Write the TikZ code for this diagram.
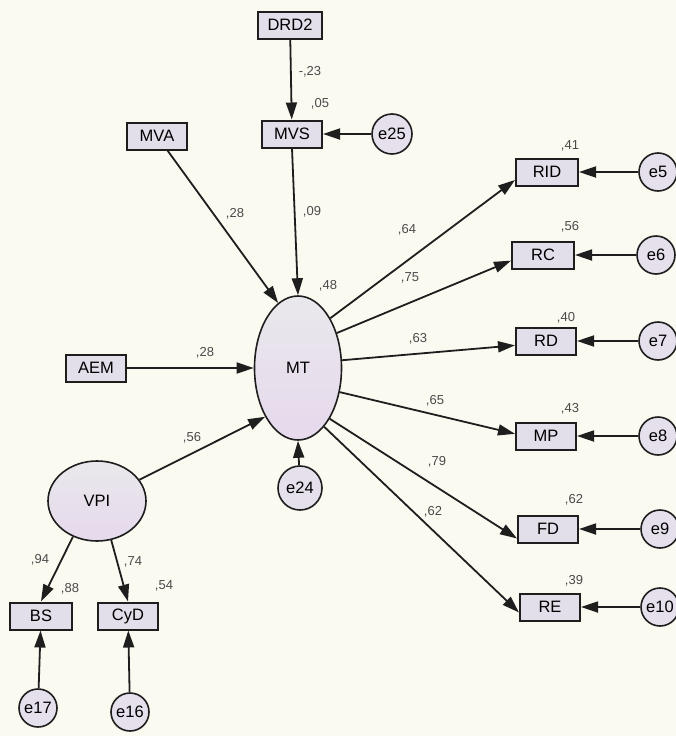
\documentclass[tikz,border=0pt]{standalone}
\usepackage{fontspec}
\setmainfont{Liberation Sans}
\usetikzlibrary{arrows.meta,shapes.geometric}
\definecolor{paper}{HTML}{FBFAF1}
\definecolor{boxfill}{HTML}{E2DEEA}
\definecolor{latfill}{HTML}{E6DFEC}
\definecolor{lattop}{HTML}{E9E8EC}
\definecolor{latbottom}{HTML}{E6D9EC}
\definecolor{ink}{HTML}{1E1E1E}
\definecolor{numgray}{HTML}{4A4A4A}
\tikzset{
  obs/.style={draw=ink, line width=2pt, fill=boxfill, minimum width=60pt,
    minimum height=27pt, inner sep=0pt, font=\fontsize{16.5}{16.5}\selectfont},
  err/.style={circle, draw=ink, line width=1.6pt, fill=latfill, minimum size=40pt,
    inner sep=0pt, font=\fontsize{16.5}{16.5}\selectfont},
  lat/.style={ellipse, draw=ink, line width=1.6pt, top color=lattop,
    bottom color=latbottom, inner sep=0pt, font=\fontsize{16.5}{16.5}\selectfont},
  num/.style={text=numgray, font=\fontsize{13}{13}\selectfont, inner sep=0pt},
  path/.style={draw=ink, line width=1.8pt, -{Triangle[length=17pt,width=11pt]}}
}
\begin{document}
\begin{tikzpicture}[x=1pt,y=-1pt]
\fill[paper] (0,0) rectangle (676,736);
\useasboundingbox (0,0) rectangle (676,736);

% observed variables
\node[obs, minimum width=64pt] (drd2) at (290,25) {DRD2};
\node[obs] (mvs) at (292,134) {MVS};
\node[obs] (mva) at (157,136) {MVA};
\node[obs] (aem) at (96,368) {AEM};
\node[obs, minimum width=62pt] (bs) at (41,616) {BS};
\node[obs] (cyd) at (128,616) {CyD};
\node[obs, minimum width=62pt] (rid) at (547,172) {RID};
\node[obs, minimum width=62pt] (rc) at (543,255) {RC};
\node[obs] (rd) at (546,341) {RD};
\node[obs] (mp) at (546,436) {MP};
\node[obs] (fd) at (548,529) {FD};
\node[obs] (re) at (550,607) {RE};

% latent variables
\node[lat, minimum width=87pt, minimum height=144pt] (mt) at (298,368) {MT};
\node[lat, minimum width=98pt, minimum height=80pt] (vpi) at (97,501) {VPI};

% error terms
\node[err] (e25) at (392,134) {e25};
\node[err, minimum size=44pt] (e24) at (300,488) {e24};
\node[err, minimum size=38pt] (e5) at (658,172) {e5};
\node[err, minimum size=38pt] (e6) at (656,255) {e6};
\node[err, minimum size=38pt] (e7) at (658,341) {e7};
\node[err, minimum size=38pt] (e8) at (658,436) {e8};
\node[err, minimum size=38pt] (e9) at (660,529) {e9};
\node[err, minimum size=38pt] (e10) at (660,607) {e10};
\node[err, minimum size=38pt] (e17) at (38,708) {e17};
\node[err, minimum size=38pt] (e16) at (130,712) {e16};

% structural paths
\draw[path] (drd2) -- (mvs);
\draw[path] (e25) -- (mvs);
\draw[path] (mva) -- (mt.107);
\draw[path] (mvs.south) -- (mt.90);
\draw[path] (aem) -- (mt.180);
\draw[path] (vpi) -- (mt.236);
\draw[path] (e24) -- (mt.270);

% measurement paths
\draw[path] (mt.57) -- (rid.194);
\draw[path] (mt.42) -- (rc.190);
\draw[path] (mt.10) -- (rd.188);
\draw[path] (mt.330) -- (mp.176);
\draw[path] (mt.302) -- (fd.197);
\draw[path] (mt.294) -- (re.190);
\draw[path] (e5) -- (rid);
\draw[path] (e6) -- (rc);
\draw[path] (e7) -- (rd);
\draw[path] (e8) -- (mp);
\draw[path] (e9) -- (fd);
\draw[path] (e10) -- (re);
\draw[path] (vpi.236) -- (bs.north);
\draw[path] (vpi.290) -- (cyd.north);
\draw[path] (e17) -- (bs);
\draw[path] (e16) -- (cyd);

% coefficients
\node[num] (c1) at (310,72) {-,23};
\node[num] (c2) at (320,104) {,05};
\node[num] (c3) at (235,214) {,28};
\node[num] (c4) at (312,212) {,09};
\node[num] (c5) at (328,286) {,48};
\node[num] (c6) at (205,353) {,28};
\node[num] (c7) at (192,438) {,56};
\node[num] (c8) at (407,230) {,64};
\node[num] (c9) at (410,278) {,75};
\node[num] (c10) at (418,339) {,63};
\node[num] (c11) at (435,401) {,65};
\node[num] (c12) at (437,462) {,79};
\node[num] (c13) at (433,512) {,62};
\node[num] (c14) at (570,146) {,41};
\node[num] (c15) at (570,227) {,56};
\node[num] (c16) at (566,318) {,40};
\node[num] (c17) at (570,409) {,43};
\node[num] (c18) at (574,500) {,62};
\node[num] (c19) at (574,581) {,39};
\node[num] (c20) at (40,560) {,94};
\node[num] (c21) at (133,562) {,74};
\node[num] (c22) at (70,589) {,88};
\node[num] (c23) at (164,586) {,54};
\end{tikzpicture}
\end{document}
